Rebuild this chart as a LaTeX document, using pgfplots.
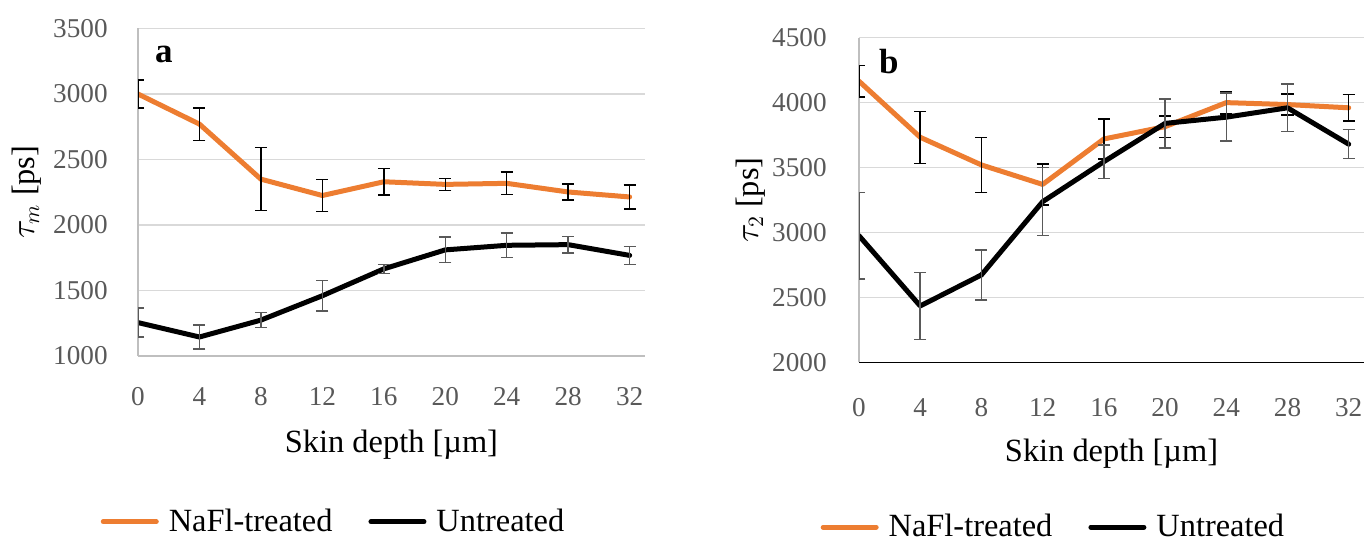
\documentclass[border=0pt]{standalone}
\usepackage{fontspec}
\setmainfont{Liberation Serif}
\usepackage{pgfplots}
\pgfplotsset{compat=1.18}
\definecolor{nafl}{HTML}{ED7D31}
\definecolor{tickgray}{HTML}{595959}
\definecolor{gridgray}{HTML}{D9D9D9}
\definecolor{axgray}{HTML}{BFBFBF}
\definecolor{errgray}{HTML}{595959}

\pgfplotsset{
  panel/.style={
    scale only axis, xmin=0, xmax=33, xtick={0,4,...,32},
    axis x line=bottom, axis y line=left,
    y axis line style={-, draw=axgray, line width=0.75bp},
    major tick length=0pt,
    ymajorgrids, grid style={gridgray, line width=0.75bp},
    /pgf/number format/assume math mode=true,
    /pgf/number format/set thousands separator={},
    ticklabel style={font=\fontsize{13.6bp}{16bp}\selectfont, text=tickgray, inner sep=0pt},
    label style={font=\fontsize{16.2bp}{19bp}\selectfont},
    xlabel={Skin depth [µm]},
    legend columns=2,
    legend style={draw=none, fill=none, font=\fontsize{16.2bp}{19bp}\selectfont,
      anchor=center, inner sep=0pt, nodes={inner sep=0pt},
      /tikz/every odd column/.append style={column sep=5bp},
      /tikz/every even column/.append style={column sep=18bp}},
    legend image code/.code={\draw[#1] (0bp,0bp) -- (26.5bp,0bp);},
  },
  nafline/.style={nafl, line width=2.5bp, line join=round, line cap=round, mark=none,
    error bars/.cd, y dir=both, y explicit,
    error bar style={black, line width=0.75bp, line cap=butt},
    error mark options={black, rotate=90, mark size=3bp, line width=0.75bp}},
  untline/.style={black, line width=2.5bp, line join=round, line cap=round, mark=none,
    error bars/.cd, y dir=both, y explicit,
    error bar style={errgray, line width=0.75bp, line cap=butt},
    error mark options={errgray, rotate=90, mark size=3bp, line width=0.75bp}},
}

\begin{document}
\begin{tikzpicture}
\path[use as bounding box] (0,0) rectangle (682.5bp,270.5bp);

% panel a
\begin{axis}[panel,
    at={(69bp,92.5bp)}, anchor=south west,
    width=253.5bp, height=163.75bp,
    ymin=1000, ymax=3500, ytick={1000,1500,...,3500},
    x axis line style={-, draw=axgray, line width=0.75bp},
    xticklabel style={yshift=-15.5bp},
    yticklabel style={xshift=-15bp},
    xlabel style={at={(axis description cs:0.5,-0.296)}, anchor=base},
    ylabel={$\tau_m$ [ps]},
    ylabel style={at={(axis description cs:-0.205,0.5)}, anchor=base},
    legend style={at={(0.3836,-0.506)}},
]
  \addplot[nafline] coordinates {
    (0,3000) +- (0,105)  (4,2770) +- (0,125)  (8,2350) +- (0,240)
    (12,2225) +- (0,123) (16,2330) +- (0,100) (20,2310) +- (0,45)
    (24,2318) +- (0,85)  (28,2252) +- (0,62)  (32,2214) +- (0,90)};
  \addplot[untline] coordinates {
    (0,1255) +- (0,110)  (4,1145) +- (0,90)   (8,1274) +- (0,57)
    (12,1460) +- (0,117) (16,1665) +- (0,35)  (20,1810) +- (0,97)
    (24,1845) +- (0,95)  (28,1850) +- (0,63)  (32,1768) +- (0,69)};
  \legend{NaFl-treated, Untreated}
  \node[anchor=base west, font=\bfseries\fontsize{17.5bp}{20bp}\selectfont]
    at (axis description cs:0.0197,0.895) {a};
\end{axis}

% panel b
\begin{axis}[panel,
    at={(429.5bp,89.35bp)}, anchor=south west,
    width=252.5bp, height=162.3bp,
    ymin=2000, ymax=4500, ytick={2000,2500,...,4500},
    x axis line style={-, draw=black, line width=0.75bp},
    xticklabel style={yshift=-17.9bp},
    yticklabel style={xshift=-16bp},
    xlabel style={at={(axis description cs:0.5,-0.307)}, anchor=base},
    ylabel={$\tau_2$ [ps]},
    ylabel style={at={(axis description cs:-0.2,0.5)}, anchor=base},
    legend style={at={(0.383,-0.508)}},
]
  \addplot[nafline] coordinates {
    (0,4165) +- (0,120)  (4,3733) +- (0,200)  (8,3520) +- (0,212)
    (12,3370) +- (0,158) (16,3720) +- (0,153) (20,3815) +- (0,82)
    (24,4000) +- (0,86)  (28,3985) +- (0,80)  (32,3960) +- (0,103)};
  \addplot[untline] coordinates {
    (0,2975) +- (0,334)  (4,2434) +- (0,257)  (8,2673) +- (0,192)
    (12,3237) +- (0,262) (16,3545) +- (0,128) (20,3840) +- (0,188)
    (24,3888) +- (0,185) (28,3960) +- (0,182) (32,3680) +- (0,112)};
  \legend{NaFl-treated, Untreated}
  \node[anchor=base west, font=\bfseries\fontsize{17.5bp}{20bp}\selectfont]
    at (axis description cs:0.0257,0.891) {b};
\end{axis}
\end{tikzpicture}
\end{document}
